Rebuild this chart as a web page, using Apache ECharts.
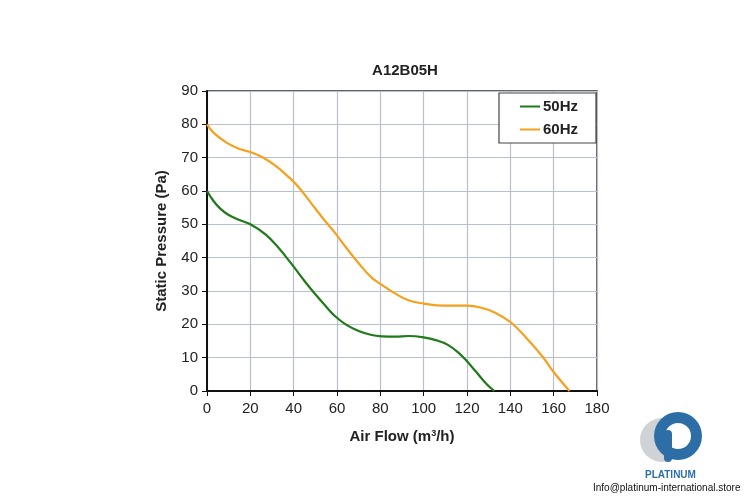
<!DOCTYPE html>
<html>
<head>
<meta charset="utf-8">
<script src="https://cdn.jsdelivr.net/npm/echarts@6/dist/echarts.min.js"></script>
<style>html,body{margin:0;padding:0;background:#fff;}#c{width:750px;height:500px;}</style>
</head>
<body>
<div id="c"></div>
<script>
var seriesNames = ['50Hz', '60Hz'];
var flow50 = [0, 3, 6, 10, 15, 20, 27, 33, 37, 40, 45, 50, 55, 59, 64, 70, 76, 81, 87, 93, 100, 106, 111, 116, 120, 124, 129, 132.6];
var pres50 = [60, 57, 54.8, 52.8, 51.3, 50, 47, 43, 39.8, 37.3, 33, 29, 25.3, 22.5, 20, 18, 16.8, 16.4, 16.3, 16.5, 16.1, 15.2, 13.9, 11.5, 8.9, 5.9, 2.1, 0];
var flow60 = [0, 3, 9, 15, 20, 26, 32, 38, 42.5, 48.5, 54.5, 59, 64, 70, 76, 81, 87, 93, 100, 106, 113, 120, 127, 133, 140, 147, 155, 160, 167.3];
var pres60 = [80, 77.5, 74.5, 72.6, 71.7, 70, 67.4, 64, 61, 56, 51, 47.5, 43.2, 38.3, 34, 31.7, 29.2, 27.2, 26.2, 25.7, 25.6, 25.6, 24.9, 23.5, 20.7, 16.2, 10.2, 5.7, 0];

function pairs(xs, ys) { return xs.map(function (x, i) { return [x, ys[i]]; }); }

var chart = echarts.init(document.getElementById('c'));
var font = 'Liberation Sans, Arial, sans-serif';
chart.setOption({
  backgroundColor: '#ffffff',
  animation: false,
  title: {
    text: 'A12B05H', left: 400, top: 58, textAlign: 'center',
    textStyle: { fontFamily: font, fontSize: 15, fontWeight: 'bold', color: '#222' }
  },
  grid: { left: 207, right: 153, top: 91, bottom: 109, show: true, borderColor: '#333', borderWidth: 1.5, backgroundColor: '#fff' },
  legend: {
    right: 154, top: 93, orient: 'vertical', itemGap: 8,
    backgroundColor: '#fff', borderColor: '#444', borderWidth: 1.2, borderRadius: 0,
    padding: [6, 18, 6, 21],
    itemWidth: 20, itemHeight: 2,
    icon: 'rect',
    textStyle: { fontFamily: font, fontSize: 15, fontWeight: 'bold', color: '#222', padding: [0, 0, 0, -2] },
    data: seriesNames
  },
  xAxis: {
    type: 'value', min: 0, max: 180, interval: 20,
    name: 'Air Flow (m{sup|3}/h)', nameLocation: 'middle', nameGap: 38,
    nameTextStyle: { fontFamily: font, fontSize: 15, fontWeight: 'bold', color: '#222',
      rich: { sup: { fontSize: 9, fontWeight: 'bold', verticalAlign: 'top', padding: [0, 0, 7, 0], color: '#222', fontFamily: font } } },
    axisLine: { lineStyle: { color: '#111', width: 2 } },
    axisTick: { show: true, length: 5, lineStyle: { color: '#111' } },
    axisLabel: { fontFamily: font, fontSize: 15, color: '#222', margin: 10 },
    splitLine: { show: true, lineStyle: { color: '#b9bfcb', width: 1.2 } }
  },
  yAxis: {
    type: 'value', min: 0, max: 90, interval: 10,
    name: 'Static Pressure (Pa)', nameLocation: 'middle', nameGap: 38,
    nameTextStyle: { fontFamily: font, fontSize: 15, fontWeight: 'bold', color: '#222' },
    axisLine: { show: true, lineStyle: { color: '#111', width: 2 } },
    axisTick: { show: true, length: 5, lineStyle: { color: '#111' } },
    axisLabel: { fontFamily: font, fontSize: 15, color: '#222', margin: 9 },
    splitLine: { show: true, lineStyle: { color: '#b9bfcb', width: 1.2 } }
  },
  series: [
    { name: seriesNames[0], type: 'line', smooth: 0.4, showSymbol: false, data: pairs(flow50, pres50),
      itemStyle: { color: '#1f7a1a' }, lineStyle: { color: '#1f7a1a', width: 2.2 } },
    { name: seriesNames[1], type: 'line', smooth: 0.4, showSymbol: false, data: pairs(flow60, pres60),
      itemStyle: { color: '#f6a01e' }, lineStyle: { color: '#f6a01e', width: 2.2 } }
  ],
  graphic: [
    { type: 'circle', shape: { cx: 662, cy: 440, r: 22 }, style: { fill: '#d0d3d6' } },
    { type: 'circle', shape: { cx: 678, cy: 436, r: 24 }, style: { fill: '#2e6ea6' } },
    { type: 'circle', shape: { cx: 678, cy: 436, r: 13 }, style: { fill: '#ffffff' } },
    { type: 'rect', shape: { x: 664, y: 430, width: 8, height: 32, r: 4 }, style: { fill: '#2e6ea6' } },
    { type: 'text', left: 645, top: 470, style: { text: 'PLATINUM', fontFamily: font, fontSize: 10, fontWeight: 'bold', fill: '#2e6ea6' } },
    { type: 'text', left: 593, top: 483, style: { text: 'Info@platinum-international.store', fontFamily: font, fontSize: 10, fill: '#111' } }
  ]
});
</script>
</body>
</html>
